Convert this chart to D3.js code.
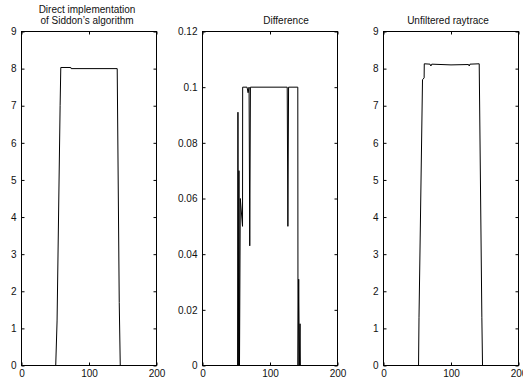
<!DOCTYPE html>
<html lang="en">
    <head>
        <meta charset="utf-8">
        <title>Siddon comparison</title>
        <script type="text/javascript" src="https://d3js.org/d3.v7.min.js"></script>
        <style type="text/css">
            body { margin: 0; background: #fff; }
            text {
                font-family: "Liberation Sans", Arial, sans-serif;
                font-size: 10px;
                fill: #111;
            }
        </style>
    </head>
    <body>
        <script type="text/javascript">

        // Panel 1 - direct implementation
        var siddonX = [0, 50.7, 52.7, 57.2, 58.2, 73.1, 73.5, 141.8, 144.8, 146.3, 200];
        var siddonY = [0, 0, 1.2, 7.0, 8.03, 8.03, 8.0, 8.0, 1.7, 0, 0];

        // Panel 2 - difference
        var diffX = [0, 52, 52.5, 53, 54, 54.8, 56, 59.3, 59.5, 66, 67.5, 69, 70, 71,
                     125.5, 126.5, 127.5, 141.2, 141.5, 142.5, 143.5, 144.5, 145, 200];
        var diffY = [0, 0, 0.091, 0, 0.07, 0, 0.06, 0.05, 0.1, 0.1, 0.098, 0.1, 0.043, 0.1,
                     0.1, 0.05, 0.1, 0.1, 0, 0.031, 0, 0.015, 0, 0];

        // Panel 3 - unfiltered raytrace
        var rayX = [0, 51.9, 52.6, 57.8, 60.2, 60.4, 69, 70.2, 71.5, 100, 126, 127, 128, 141.8, 145.7, 146.7, 200];
        var rayY = [0, 0, 1.3, 7.7, 7.75, 8.13, 8.12, 8.07, 8.12, 8.1, 8.11, 8.07, 8.12, 8.13, 1.3, 0, 0];

        var xTicks = [0, 100, 200];
        var yTicksA = [0, 1, 2, 3, 4, 5, 6, 7, 8, 9];
        var yTicksB = [0, 0.02, 0.04, 0.06, 0.08, 0.1, 0.12];

        var w = 523;
        var h = 383;

        var svg = d3.select("body")
                    .append("svg")
                    .attr("width", w)
                    .attr("height", h);

        var panels = [
            { xs: siddonX, ys: siddonY, ymax: 9, yTicks: yTicksA, left: 21.5,
              title: ["Direct implementation", "of Siddon\u2019s algorithm"], titleX: 87 },
            { xs: diffX, ys: diffY, ymax: 0.12, yTicks: yTicksB, left: 202.5,
              title: ["Difference"], titleX: 286 },
            { xs: rayX, ys: rayY, ymax: 9, yTicks: yTicksA, left: 383.5,
              title: ["Unfiltered raytrace"], titleX: 448 }
        ];

        var plotTop = 31.5, pw = 135, ph = 334;

        panels.forEach(function(p) {
            var x = d3.scaleLinear().domain([0, 200]).range([0, pw]);
            var y = d3.scaleLinear().domain([0, p.ymax]).range([ph, 0]);

            var g = svg.append("g")
                       .attr("transform", "translate(" + p.left + "," + plotTop + ")");

            // ticks, inward like matlab
            var fmt = p.ymax < 1 ? d3.format("") : d3.format("d");
            g.append("g").call(d3.axisLeft(y).tickValues(p.yTicks).tickSize(-3).tickPadding(5).tickFormat(fmt));
            g.append("g").attr("transform", "translate(" + pw + ",0)")
             .call(d3.axisRight(y).tickValues(p.yTicks).tickSize(-3).tickFormat(""));
            g.append("g").attr("transform", "translate(0," + ph + ")")
             .call(d3.axisBottom(x).tickValues(xTicks).tickSize(-3).tickPadding(4));
            g.append("g")
             .call(d3.axisTop(x).tickValues(xTicks).tickSize(-3).tickFormat(""));

            g.selectAll(".domain").remove();
            g.selectAll(".tick line").attr("stroke", "#000");
            g.selectAll(".tick text").attr("fill", "#111")
             .style("font-family", "'Liberation Sans', Arial, sans-serif")
             .style("font-size", "10px");

            // data line
            var pts = p.xs.map(function(v, i) { return [v, p.ys[i]]; });
            var line = d3.line()
                         .x(function(d) { return x(d[0]); })
                         .y(function(d) { return y(d[1]); });
            g.append("path")
             .datum(pts)
             .attr("fill", "none")
             .attr("stroke", "#000")
             .attr("stroke-width", 1)
             .attr("d", line);

            // box
            g.append("rect")
             .attr("width", pw)
             .attr("height", ph)
             .attr("fill", "none")
             .attr("stroke", "#000");

            // title
            var t = svg.append("text")
                       .attr("text-anchor", "middle")
                       .attr("x", p.titleX);
            var base = 24 - (p.title.length - 1) * 11.5;
            p.title.forEach(function(s, i) {
                t.append("tspan")
                 .attr("x", p.titleX)
                 .attr("y", base + i * 11.5)
                 .text(s);
            });
        });

        </script>
    </body>
</html>
